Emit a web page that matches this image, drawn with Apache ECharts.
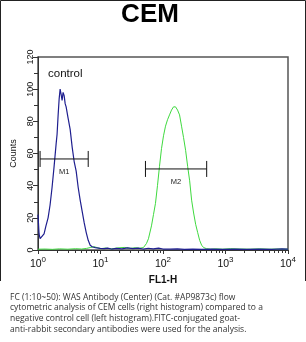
<!DOCTYPE html>
<html><head><meta charset="utf-8">
<script src="https://cdn.jsdelivr.net/npm/echarts@6/dist/echarts.min.js"></script>
<style>html,body{margin:0;padding:0;background:#fff}#c{width:306px;height:342px}</style>
</head><body><div id="c"></div>
<script>
// Control (blue) histogram: FL1-H value, counts
const blueX = [1.00, 1.04, 1.08, 1.16, 1.25, 1.34, 1.45, 1.56, 1.68, 1.81, 1.95, 2.02, 2.10, 2.18, 2.26, 2.34, 2.43, 2.52, 2.62, 2.72, 2.82, 3.03, 3.27, 3.52, 3.79, 4.08, 4.39, 4.73, 5.09, 5.48, 5.90, 6.36, 6.84, 7.37, 8.24, 9.9, 11.5, 13, 15, 18, 22, 27, 33, 40, 48, 58, 70, 85, 100, 130, 170, 220, 300, 420, 600, 900, 1400, 2200, 3500, 5500, 8000, 10000];
const blueY = [22, 10, 7, 7.5, 10, 15, 20, 28, 39, 52, 66, 72, 84, 94, 100, 97, 93, 98, 96, 91, 89, 82, 75, 64, 55, 49, 39, 31, 24, 17, 11, 6, 3, 2, 1.5, 1, 0.8, 1.2, 0.6, 1, 0.7, 1.3, 0.8, 1.2, 0.6, 1.1, 0.7, 1.2, 0.6, 0.5, 0.7, 0.4, 0.5, 0.4, 0.6, 0.4, 0.5, 0.4, 0.6, 0.4, 0.7, 0.5];
// CEM (green) histogram
const greenX = [1, 1.3, 1.7, 2.2, 3, 4, 5, 6, 7, 8, 9, 10, 12, 15, 19, 24, 30, 36, 42, 48.6, 54.3, 58.5, 65.4, 70.4, 75.8, 81.6, 87.9, 94.6, 101.9, 109.7, 118.1, 127.1, 136.9, 147.4, 153, 158.7, 171, 184, 198, 213, 230, 248, 267, 287, 309, 333, 358, 386, 415, 447, 500, 579, 700, 900, 1200, 1700, 2500, 3500, 5000, 7000, 10000];
const greenY = [0.5, 0.6, 0.4, 0.7, 0.5, 0.8, 0.6, 1, 1.6, 2, 1.4, 0.8, 1.2, 0.7, 1.3, 1.6, 1, 1.4, 1.1, 1.5, 4, 7, 15, 22, 29, 40, 52, 63, 71, 77, 81, 84, 87, 89, 90, 89, 87, 84, 77, 70, 62, 52, 43, 31, 23, 16, 11, 6, 3, 1.5, 0.8, 0.5, 0.7, 0.5, 0.8, 0.6, 0.5, 0.7, 0.5, 0.6, 0.5];
// Gate markers
const markerNames = ['M1', 'M2'];
const markerFrom = [1.08, 52.4];
const markerTo = [6.36, 500];
const markerLevel = [56.6, 50.4];
// Axis ticks
const xMajorTicks = [1, 10, 100, 1000, 10000];
const xMinorTicks = [];
[1, 10, 100, 1000].forEach(d => { for (let k = 2; k <= 9; k++) xMinorTicks.push(d * k); });
const yTicks = [0, 20, 40, 60, 80, 100, 120];

const caption = 'FC (1:10~50): WAS Antibody (Center) (Cat. #AP9873c) flow\ncytometric analysis of CEM cells (right histogram) compared to a\nnegative control cell (left histogram).FITC-conjugated goat-\nanti-rabbit secondary antibodies were used for the analysis.';

const chart = echarts.init(document.getElementById('c'), null, {renderer: 'canvas'});
const zip = (a, b) => a.map((v, i) => [v, b[i]]);
const markerData = markerNames.map((n, i) => [markerFrom[i], markerTo[i], markerLevel[i]]);

chart.setOption({
  animation: false,
  backgroundColor: '#fff',
  grid: {left: 38, right: 18, top: 57, bottom: 92, show: true, borderColor: '#555', borderWidth: 1.5, backgroundColor: 'transparent'},
  xAxis: [{
    type: 'log', logBase: 10, min: 1, max: 10000, position: 'bottom',
    name: 'FL1-H', nameLocation: 'middle', nameGap: 14,
    nameTextStyle: {fontFamily: 'Liberation Sans Narrow, Liberation Sans, Arial', fontSize: 10, color: '#111', fontWeight: 'bold'},
    axisLine: {show: true, lineStyle: {color: '#333', width: 1}},
    axisTick: {show: true, inside: false, length: 4, customValues: xMajorTicks, lineStyle: {color: '#333'}},
    splitLine: {show: false},
    axisLabel: {
      customValues: xMajorTicks, margin: 3, color: '#111',
      formatter: v => '{b|10}{s|' + Math.round(Math.log10(v)) + '}',
      rich: {
        b: {fontFamily: 'Liberation Sans, Arial', fontSize: 10.5, color: '#111', padding: [6, 0, 0, 0]},
        s: {fontFamily: 'Liberation Sans, Arial', fontSize: 8, color: '#111', padding: [0, 0, 4, 0]}
      }
    }
  }, {
    type: 'log', logBase: 10, min: 1, max: 10000, position: 'bottom', gridIndex: 0,
    axisLine: {show: false},
    axisTick: {show: true, inside: false, length: 3, customValues: xMinorTicks, lineStyle: {color: '#333'}},
    axisLabel: {show: false},
    splitLine: {show: false}
  }],
  yAxis: {
    type: 'value', min: 0, max: 120, interval: 20,
    name: 'Counts', nameLocation: 'middle', nameGap: 19, nameRotate: 90,
    nameTextStyle: {fontFamily: 'Liberation Sans, Arial', fontSize: 9, color: '#111'},
    axisLine: {show: true, lineStyle: {color: '#333', width: 1}},
    axisTick: {show: true, inside: false, length: 5, lineStyle: {color: '#333'}},
    minorTick: {show: true, splitNumber: 2, length: 4, lineStyle: {color: '#333'}},
    splitLine: {show: false},
    axisLabel: {rotate: 90, margin: 3, fontFamily: 'Liberation Sans, Arial', fontSize: 9, color: '#111',
      formatter: v => yTicks.indexOf(v) >= 0 ? String(v) : ''}
  },
  series: [
    {type: 'line', name: 'CEM', data: zip(greenX, greenY), showSymbol: false, symbol: 'none',
      lineStyle: {color: '#3fd93f', width: 1}, z: 3},
    {type: 'line', name: 'control', data: zip(blueX, blueY), showSymbol: false, symbol: 'none',
      lineStyle: {color: '#1f1f8f', width: 1.2}, z: 4},
    {type: 'custom', name: 'gates', data: markerData, encode: {x: [0, 1], y: 2}, z: 5,
      renderItem: (params, api) => {
        const p1 = api.coord([api.value(0), api.value(2)]);
        const p2 = api.coord([api.value(1), api.value(2)]);
        const h = 8;
        const st = {stroke: '#111', lineWidth: 1};
        return {type: 'group', children: [
          {type: 'line', shape: {x1: p1[0], y1: p1[1], x2: p2[0], y2: p2[1]}, style: st},
          {type: 'line', shape: {x1: p1[0], y1: p1[1] - h, x2: p1[0], y2: p1[1] + h}, style: st},
          {type: 'line', shape: {x1: p2[0], y1: p2[1] - h, x2: p2[0], y2: p2[1] + h}, style: st},
          {type: 'text', x: (p1[0] + p2[0]) / 2, y: p1[1] + 13,
            style: {text: markerNames[params.dataIndex], fill: '#222', fontSize: 7.5, fontFamily: 'Liberation Sans, Arial', align: 'center', verticalAlign: 'middle'}}
        ]};
      }
    }
  ],
  graphic: [
    {type: 'polyline', shape: {points: [[0.5, 281], [0.5, 0.5], [305.5, 0.5], [305.5, 281]]}, style: {stroke: '#222', lineWidth: 1, fill: null}},
    {type: 'text', x: 150, y: 15, style: {text: 'CEM', fontFamily: 'Liberation Sans, Arial', fontWeight: 'bold', fontSize: 26, fill: '#000', align: 'center', verticalAlign: 'middle'}},
    {type: 'text', x: 48, y: 74, style: {text: 'control', fontFamily: 'Liberation Sans, Arial', fontSize: 11.5, fill: '#111', align: 'left', verticalAlign: 'middle'}},
    {type: 'text', x: 10, y: 292, style: {text: caption, fontFamily: 'Open Sans, DejaVu Sans, sans-serif', fontSize: 8.5, lineHeight: 10.7, fill: '#333', align: 'left', verticalAlign: 'top'}}
  ]
});
</script></body></html>
